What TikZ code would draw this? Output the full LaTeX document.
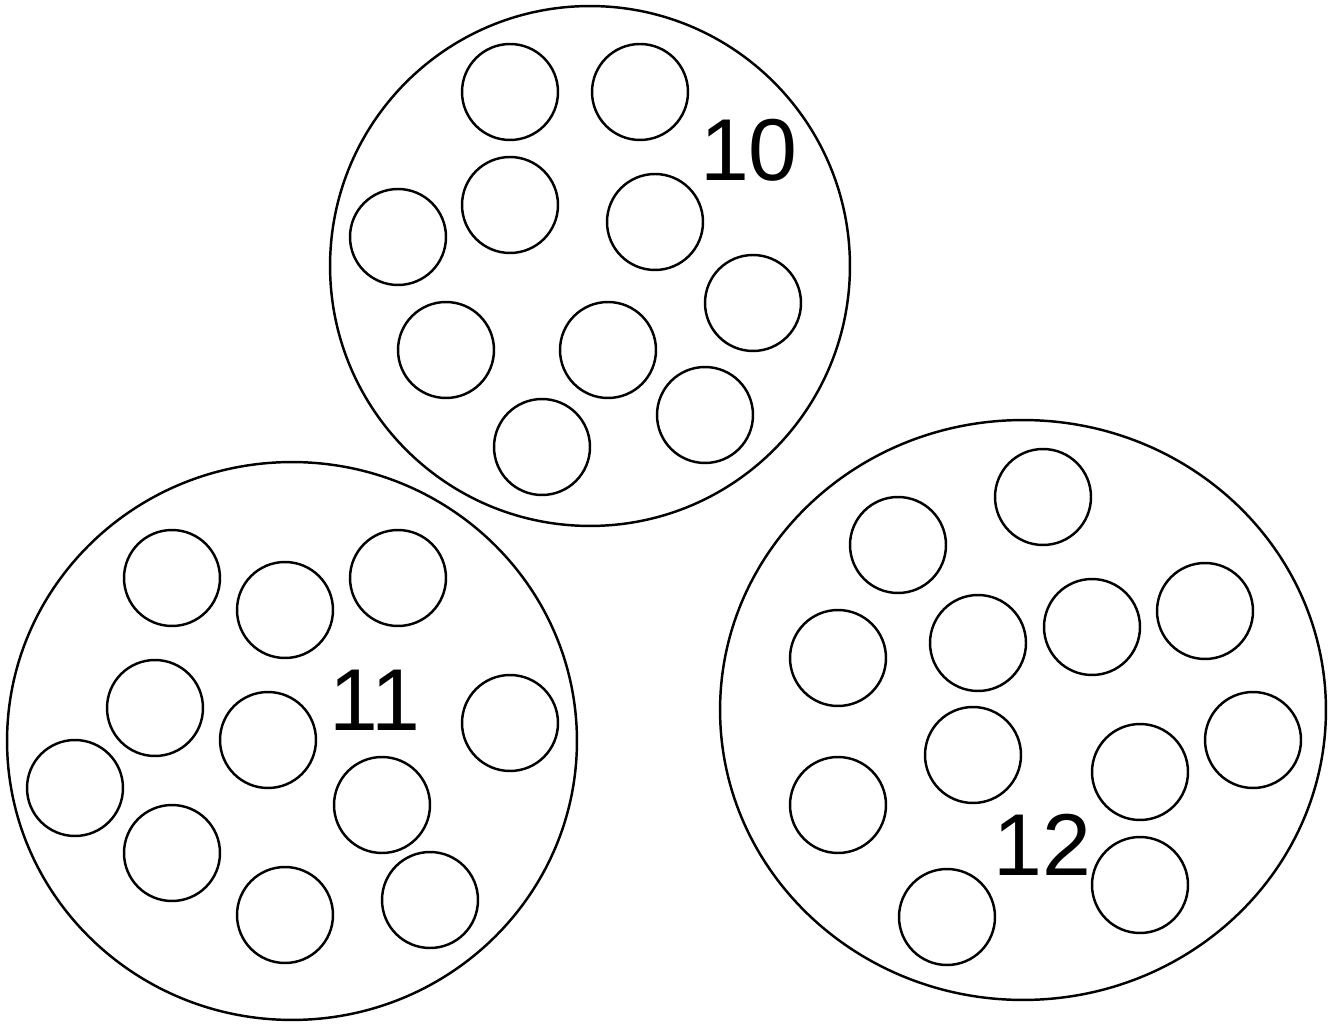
\documentclass[tikz,border=0pt]{standalone}
\usepackage{fontspec}
\setmainfont{Liberation Sans}
\begin{document}
\begin{tikzpicture}[x=0.02cm,y=-0.02cm,
  big/.style={draw,line width=1.4pt},
  dot/.style={draw,line width=1.4pt,circle,minimum size=1.92cm,inner sep=0pt},
  lbl/.style={font=\fontsize{50}{50}\selectfont,inner sep=0pt}]
\useasboundingbox (0,0) rectangle (1331,1026);
% group 10
\draw[big] (590,266) circle [radius=5.2cm];
\node[dot] (a1) at (510,92) {};
\node[dot] (a2) at (640,92) {};
\node[dot] (a3) at (510,205) {};
\node[dot] (a4) at (655,222) {};
\node[dot] (a5) at (398,237) {};
\node[dot] (a6) at (753,303) {};
\node[dot] (a7) at (446,350) {};
\node[dot] (a8) at (608,350) {};
\node[dot] (a9) at (705,415) {};
\node[dot] (a10) at (542,447) {};
\node[lbl] (l10) at (749,150) {10};
% group 11
\draw[big] (292,741) ellipse [x radius=5.7cm, y radius=5.58cm];
\node[dot] (b1) at (172,578) {};
\node[dot] (b2) at (285,610) {};
\node[dot] (b3) at (398,578) {};
\node[dot] (b4) at (155,708) {};
\node[dot] (b5) at (268,740) {};
\node[dot] (b6) at (510,723) {};
\node[dot] (b7) at (75,788) {};
\node[dot] (b8) at (382,805) {};
\node[dot] (b9) at (172,853) {};
\node[dot] (b10) at (285,915) {};
\node[dot] (b11) at (430,900) {};
\node[lbl] (l11) at (375,700) {11};
% group 12
\draw[big] (1023,710) ellipse [x radius=6.06cm, y radius=5.8cm];
\node[dot] (c1) at (1043,497) {};
\node[dot] (c2) at (898,545) {};
\node[dot] (c3) at (838,658) {};
\node[dot] (c4) at (978,643) {};
\node[dot] (c5) at (1092,627) {};
\node[dot] (c6) at (1205,611) {};
\node[dot] (c7) at (973,755) {};
\node[dot] (c8) at (1140,772) {};
\node[dot] (c9) at (1253,740) {};
\node[dot] (c10) at (838,805) {};
\node[dot] (c11) at (947,917) {};
\node[dot] (c12) at (1140,885) {};
\node[lbl] (l12) at (1042,845) {12};
\end{tikzpicture}
\end{document}
